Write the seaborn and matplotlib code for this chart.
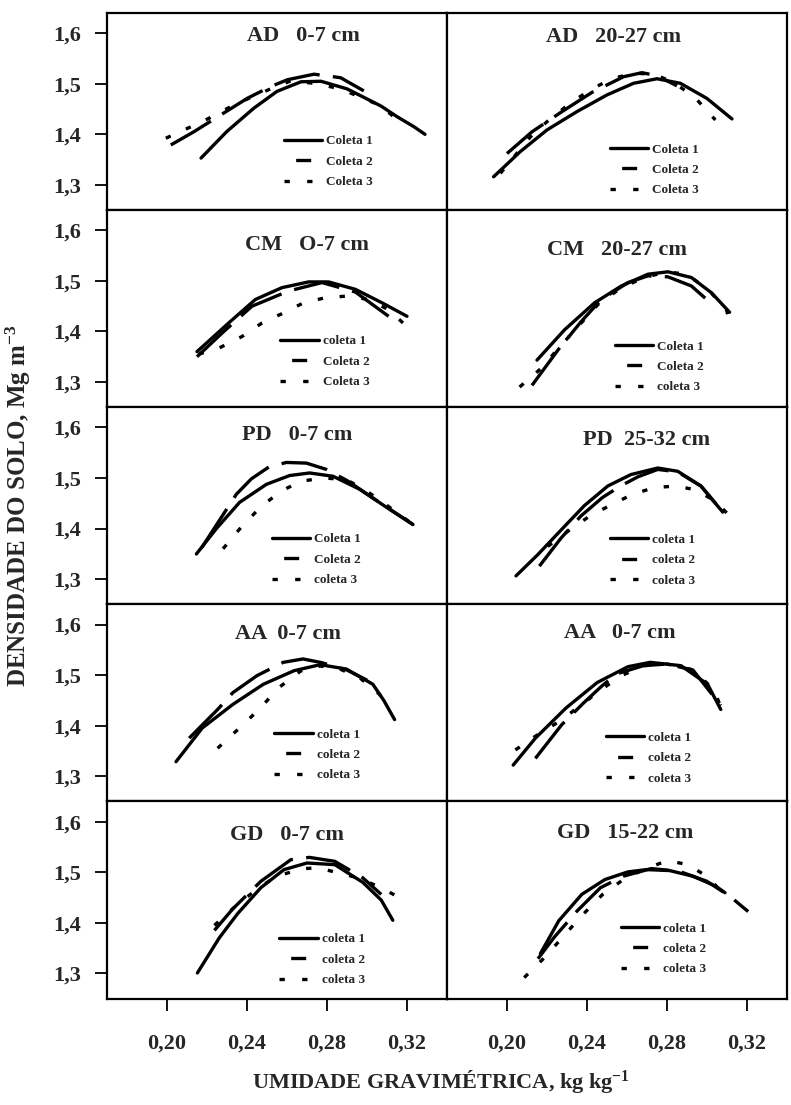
import matplotlib
matplotlib.use("Agg")
import matplotlib.pyplot as plt
from matplotlib.lines import Line2D
import pandas as pd
import seaborn as sns

# ---------------- data ----------------
X_TICKS = [0.20, 0.24, 0.28, 0.32]
X_TICK_LABELS = ["0,20", "0,24", "0,28", "0,32"]
Y_TICKS = [1.3, 1.4, 1.5, 1.6]
Y_TICK_LABELS = ["1,3", "1,4", "1,5", "1,6"]

TITLES = ["AD   0-7 cm", "AD   20-27 cm",
          "CM   O-7 cm", "CM   20-27 cm",
          "PD   0-7 cm", "PD  25-32 cm",
          "AA  0-7 cm", "AA   0-7 cm",
          "GD   0-7 cm", "GD   15-22 cm"]

LEGEND_LABELS = [["Coleta 1", "Coleta 2", "Coleta 3"],
                 ["Coleta 1", "Coleta 2", "Coleta 3"],
                 ["coleta 1", "Coleta 2", "Coleta 3"],
                 ["Coleta 1", "Coleta 2", "coleta 3"],
                 ["Coleta 1", "Coleta 2", "coleta 3"],
                 ["coleta 1", "coleta 2", "coleta 3"],
                 ["coleta 1", "coleta 2", "coleta 3"],
                 ["coleta 1", "coleta 2", "coleta 3"],
                 ["coleta 1", "coleta 2", "coleta 3"],
                 ["coleta 1", "coleta 2", "coleta 3"]]

# AD 0-7
AD07_X1 = [0.217, 0.230, 0.2435, 0.255, 0.267, 0.277, 0.290, 0.307, 0.315, 0.3235, 0.329]
AD07_Y1 = [1.353, 1.406, 1.452, 1.485, 1.504, 1.505, 1.490, 1.456, 1.435, 1.415, 1.400]
AD07_X2 = [0.2019, 0.2136, 0.2269, 0.2402, 0.2518, 0.2602, 0.2735, 0.2868, 0.2984]
AD07_Y2 = [1.379, 1.4055, 1.4385, 1.4714, 1.4945, 1.508, 1.519, 1.512, 1.486]
AD07_X3 = [0.1994, 0.2111, 0.2211, 0.231, 0.241, 0.2518, 0.2618, 0.2735, 0.2868, 0.3067, 0.3142]
AD07_Y3 = [1.3923, 1.4134, 1.432, 1.453, 1.4714, 1.49, 1.5057, 1.501, 1.49, 1.457, 1.432]
# AD 20-27
AD20_X1 = [0.1933, 0.2067, 0.22, 0.235, 0.25, 0.2633, 0.275, 0.2867, 0.30, 0.3125]
AD20_Y1 = [1.316, 1.366, 1.4087, 1.445, 1.478, 1.501, 1.51, 1.501, 1.471, 1.4305]
AD20_X2 = [0.20, 0.2125, 0.2275, 0.2425, 0.2583, 0.2675, 0.275, 0.285]
AD20_Y2 = [1.362, 1.405, 1.445, 1.483, 1.514, 1.522, 1.516, 1.496]
AD20_X3 = [0.1967, 0.2117, 0.22, 0.2317, 0.2425, 0.2525, 0.2633, 0.2733, 0.2833, 0.2942, 0.3042]
AD20_Y3 = [1.3228, 1.395, 1.425, 1.462, 1.49, 1.51, 1.521, 1.519, 1.503, 1.472, 1.4285]
# CM 0-7
CM07_X1 = [0.215, 0.2308, 0.2442, 0.2575, 0.2708, 0.2808, 0.2942, 0.3075, 0.32]
CM07_Y1 = [1.36, 1.4167, 1.4633, 1.4867, 1.498, 1.498, 1.4833, 1.4567, 1.43]
CM07_X2 = [0.215, 0.2275, 0.2425, 0.2608, 0.2775, 0.2942, 0.3108]
CM07_Y2 = [1.35, 1.3967, 1.45, 1.48, 1.4967, 1.478, 1.43]
CM07_X3 = [0.2158, 0.2258, 0.2375, 0.2475, 0.2583, 0.2683, 0.2792, 0.29, 0.3008, 0.3108, 0.3208]
CM07_Y3 = [1.355, 1.3667, 1.39, 1.4167, 1.4367, 1.4567, 1.4667, 1.47, 1.4633, 1.443, 1.4067]
# CM 20-27
CM20_X1 = [0.215, 0.2288, 0.2438, 0.2572, 0.2705, 0.2805, 0.2922, 0.3022, 0.3113]
CM20_Y1 = [1.3433, 1.4033, 1.4567, 1.49, 1.5133, 1.518, 1.5067, 1.4767, 1.438]
CM20_X2 = [0.2125, 0.2255, 0.2372, 0.2472, 0.2605, 0.2705, 0.2805, 0.2922, 0.3022]
CM20_Y2 = [1.2933, 1.3633, 1.42, 1.4633, 1.4967, 1.51, 1.508, 1.49, 1.455]
CM20_X3 = [0.2063, 0.217, 0.2265, 0.2363, 0.2455, 0.2572, 0.2688, 0.2797, 0.2897, 0.3005, 0.3097, 0.3122]
CM20_Y3 = [1.29, 1.3267, 1.37, 1.4133, 1.4533, 1.4867, 1.5067, 1.518, 1.5133, 1.4833, 1.4433, 1.4067]
# PD 0-7
PD07_X1 = [0.2147, 0.2247, 0.2363, 0.2497, 0.2613, 0.2713, 0.283, 0.2963, 0.3097, 0.323]
PD07_Y1 = [1.3497, 1.40, 1.4519, 1.4875, 1.5049, 1.51, 1.5035, 1.4778, 1.4422, 1.4079]
PD07_X2 = [0.2172, 0.226, 0.2347, 0.2422, 0.251, 0.2597, 0.2697, 0.2797, 0.29, 0.305, 0.323]
PD07_Y2 = [1.3613, 1.415, 1.468, 1.4984, 1.522, 1.5308, 1.5295, 1.517, 1.495, 1.455, 1.408]
PD07_X3 = [0.228, 0.2372, 0.2472, 0.2572, 0.2672, 0.2788, 0.2897, 0.2997, 0.3097, 0.323]
PD07_Y3 = [1.36, 1.4033, 1.4441, 1.4745, 1.4939, 1.50, 1.4968, 1.4745, 1.4467, 1.408]
# PD 25-32
PD25_X1 = [0.2045, 0.2154, 0.227, 0.2387, 0.2504, 0.262, 0.2754, 0.2854, 0.297, 0.3079]
PD25_Y1 = [1.3063, 1.3484, 1.3969, 1.4454, 1.4842, 1.5069, 1.5198, 1.5133, 1.4842, 1.4325]
PD25_X2 = [0.2162, 0.227, 0.237, 0.2478, 0.2565, 0.2654, 0.2754, 0.2854, 0.297, 0.3079]
PD25_Y2 = [1.3257, 1.381, 1.425, 1.4616, 1.4835, 1.5023, 1.517, 1.512, 1.484, 1.433]
PD25_X3 = [0.2204, 0.2312, 0.2415, 0.252, 0.2629, 0.2737, 0.2845, 0.2945, 0.3037, 0.3154]
PD25_Y3 = [1.3646, 1.397, 1.425, 1.4467, 1.468, 1.481, 1.4842, 1.4765, 1.4551, 1.4098]
# AA 0-7 (left)
AAL_X1 = [0.2045, 0.2176, 0.2329, 0.2482, 0.2635, 0.2766, 0.2897, 0.3029, 0.3084, 0.3138]
AAL_Y1 = [1.3287, 1.3953, 1.442, 1.482, 1.5087, 1.5207, 1.512, 1.482, 1.45, 1.412]
AAL_X2 = [0.2111, 0.2253, 0.2329, 0.245, 0.2581, 0.268, 0.277, 0.29, 0.30]
AAL_Y2 = [1.3753, 1.432, 1.4653, 1.499, 1.5253, 1.532, 1.525, 1.51, 1.49]
AAL_X3 = [0.2253, 0.2362, 0.246, 0.2559, 0.2668, 0.2766, 0.2865, 0.2963, 0.3063, 0.3111]
AAL_Y3 = [1.3553, 1.3953, 1.432, 1.4753, 1.508, 1.518, 1.512, 1.495, 1.462, 1.43]
# AA 0-7 (right)
AAR_X1 = [0.2031, 0.2142, 0.2296, 0.2451, 0.2605, 0.2716, 0.287, 0.3003, 0.3069]
AAR_Y1 = [1.322, 1.3753, 1.4353, 1.4853, 1.5167, 1.5253, 1.5187, 1.482, 1.432]
AAR_X2 = [0.2142, 0.2274, 0.2384, 0.2473, 0.255, 0.2682, 0.28, 0.293, 0.3069]
AAR_Y2 = [1.3353, 1.402, 1.4453, 1.478, 1.5027, 1.5187, 1.522, 1.51, 1.44]
AAR_X3 = [0.2042, 0.2153, 0.2263, 0.2368, 0.2473, 0.2572, 0.2682, 0.28, 0.2935, 0.3035, 0.308]
AAR_Y3 = [1.352, 1.382, 1.4087, 1.44, 1.472, 1.4987, 1.5187, 1.522, 1.51, 1.47, 1.427]
# GD 0-7
GD07_X1 = [0.2152, 0.2261, 0.2353, 0.2469, 0.2585, 0.27, 0.2839, 0.2979, 0.3071, 0.3129]
GD07_Y1 = [1.3007, 1.37, 1.418, 1.4693, 1.5052, 1.5183, 1.515, 1.48, 1.445, 1.405]
GD07_X2 = [0.2237, 0.233, 0.2469, 0.2619, 0.2712, 0.2839, 0.2979, 0.3071]
GD07_Y2 = [1.385, 1.428, 1.482, 1.5248, 1.5294, 1.5216, 1.4889, 1.4562]
GD07_X3 = [0.2237, 0.2353, 0.2469, 0.255, 0.2677, 0.2758, 0.2955, 0.3071, 0.3168]
GD07_Y3 = [1.3948, 1.4366, 1.472, 1.4922, 1.5072, 1.5085, 1.4889, 1.4693, 1.4484]
# GD 15-22
GD15_X1 = [0.2167, 0.2259, 0.2374, 0.249, 0.2605, 0.2698, 0.2813, 0.2929, 0.3044, 0.309]
GD15_Y1 = [1.339, 1.404, 1.4562, 1.4856, 1.5007, 1.5052, 1.5033, 1.4922, 1.4725, 1.4595]
GD15_X2 = [0.2155, 0.2236, 0.2351, 0.2467, 0.2582, 0.2721, 0.286, 0.2998, 0.3113, 0.3206]
GD15_Y2 = [1.3288, 1.3713, 1.4235, 1.4693, 1.4922, 1.5072, 1.502, 1.4824, 1.4529, 1.4222]
GD15_X3 = [0.2086, 0.219, 0.2277, 0.2374, 0.2478, 0.2594, 0.27, 0.2802, 0.2906, 0.301, 0.3102]
GD15_Y3 = [1.2915, 1.332, 1.371, 1.414, 1.456, 1.489, 1.508, 1.523, 1.515, 1.489, 1.447]

PANEL_CURVES = [
    [(AD07_X1, AD07_Y1), (AD07_X2, AD07_Y2), (AD07_X3, AD07_Y3)],
    [(AD20_X1, AD20_Y1), (AD20_X2, AD20_Y2), (AD20_X3, AD20_Y3)],
    [(CM07_X1, CM07_Y1), (CM07_X2, CM07_Y2), (CM07_X3, CM07_Y3)],
    [(CM20_X1, CM20_Y1), (CM20_X2, CM20_Y2), (CM20_X3, CM20_Y3)],
    [(PD07_X1, PD07_Y1), (PD07_X2, PD07_Y2), (PD07_X3, PD07_Y3)],
    [(PD25_X1, PD25_Y1), (PD25_X2, PD25_Y2), (PD25_X3, PD25_Y3)],
    [(AAL_X1, AAL_Y1), (AAL_X2, AAL_Y2), (AAL_X3, AAL_Y3)],
    [(AAR_X1, AAR_Y1), (AAR_X2, AAR_Y2), (AAR_X3, AAR_Y3)],
    [(GD07_X1, GD07_Y1), (GD07_X2, GD07_Y2), (GD07_X3, GD07_Y3)],
    [(GD15_X1, GD15_Y1), (GD15_X2, GD15_Y2), (GD15_X3, GD15_Y3)],
]

# ---------------- layout (axes fractions) ----------------
TITLE_POS = [(0.579, 0.885), (0.49, 0.88),
             (0.588, 0.822), (0.50, 0.797),
             (0.558, 0.861), (0.588, 0.836),
             (0.531, 0.848), (0.509, 0.857),
             (0.528, 0.832), (0.525, 0.84)]
LEGEND_POS = [(0.52, 0.246), (0.48, 0.204),
              (0.51, 0.231), (0.493, 0.205),
              (0.485, 0.227), (0.478, 0.224),
              (0.492, 0.236), (0.468, 0.219),
              (0.507, 0.197), (0.512, 0.252)]

rows = []
for p, curves in enumerate(PANEL_CURVES):
    for s, (xs, ys) in enumerate(curves):
        for x, y in zip(xs, ys):
            rows.append({"panel": p, "coleta": str(s + 1), "umidade": x, "densidade": y})
df = pd.DataFrame(rows)

sns.set_style("ticks")
plt.rcParams["font.family"] = ["Liberation Serif", "DejaVu Serif"]
plt.rcParams["font.weight"] = "bold"
plt.rcParams["mathtext.fontset"] = "custom"
plt.rcParams["mathtext.rm"] = "Liberation Serif:bold"
plt.rcParams["mathtext.it"] = "Liberation Serif:bold"
plt.rcParams["mathtext.bf"] = "Liberation Serif:bold"
plt.rcParams["axes.edgecolor"] = "black"

LW = 2.4
DASHES = {"1": "", "2": (14, 4), "3": (1.6, 5.0)}

fig, axes = plt.subplots(5, 2, figsize=(7.91, 11.05), dpi=100,
                         gridspec_kw=dict(hspace=0, wspace=0))
fig.subplots_adjust(left=0.1353, right=0.9949, top=0.9882, bottom=0.0963)

for i, ax in enumerate(axes.flat):
    r, c = divmod(i, 2)
    sub = df[df["panel"] == i]
    sns.lineplot(data=sub, x="umidade", y="densidade", style="coleta",
                 dashes=DASHES, color="black", linewidth=LW, sort=False,
                 estimator=None, legend=False, ax=ax)
    ax.set_xlim(0.17, 0.34)
    ax.set_ylim(1.25, 1.64)
    ax.set_xlabel("")
    ax.set_ylabel("")
    ax.set_xticks(X_TICKS)
    ax.set_yticks(Y_TICKS)
    ax.set_xticklabels(X_TICK_LABELS)
    ax.set_yticklabels(Y_TICK_LABELS)
    ax.tick_params(axis="both", direction="out", length=8.5, width=1.3,
                   labelsize=16, color="black")
    ax.tick_params(axis="y", pad=10)
    ax.tick_params(axis="x", pad=17)
    if r < 4:
        ax.tick_params(axis="x", bottom=False, labelbottom=False)
    if c == 1:
        ax.tick_params(axis="y", left=False, labelleft=False)
    for sp in ax.spines.values():
        sp.set_linewidth(1.6)
        sp.set_color("black")
    for lab in ax.get_xticklabels() + ax.get_yticklabels():
        lab.set_fontweight("bold")

    tx, ty = TITLE_POS[i]
    ax.text(tx, ty, TITLES[i], transform=ax.transAxes, ha="center", va="center",
            fontsize=16, fontweight="bold")

    handles = [Line2D([], [], color="black", lw=LW, linestyle="-"),
               Line2D([], [], color="black", lw=LW, linestyle=(12.0, (4.5, 11.0))),
               Line2D([], [], color="black", lw=LW, linestyle=(0, (1.6, 5.2)))]
    lx, ly = LEGEND_POS[i]
    ax.legend(handles, LEGEND_LABELS[i], loc="center left", bbox_to_anchor=(lx, ly),
              frameon=False, prop={"size": 9.5, "weight": "bold"},
              handlelength=2.9, handletextpad=0.3, labelspacing=0.62,
              borderpad=0, borderaxespad=0)

fig.text(0.023, 0.542, "DENSIDADE DO SOLO, Mg m$^{-3}$", rotation=90,
         ha="center", va="center", fontsize=18, fontweight="bold")
fig.text(0.558, 0.0217, "UMIDADE GRAVIMÉTRICA, kg kg$^{-1}$",
         ha="center", va="center", fontsize=16, fontweight="bold")

fig.savefig("out.png", dpi=100)
